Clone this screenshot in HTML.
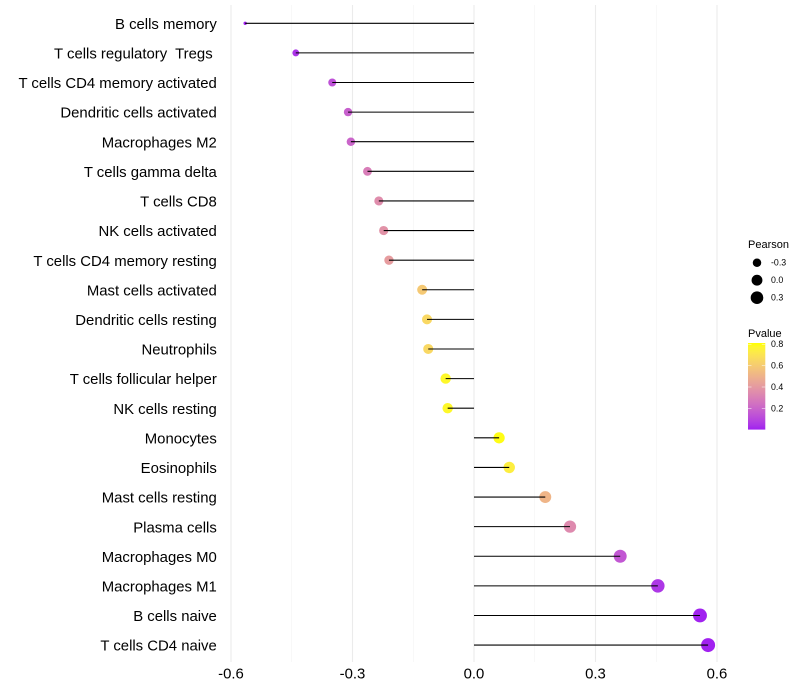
<!DOCTYPE html>
<html>
<head>
<meta charset="utf-8">
<title>Lollipop chart</title>
<style>
html,body{margin:0;padding:0;background:#fff;width:800px;height:700px;overflow:hidden}
svg{display:block;font-family:"Liberation Sans",sans-serif}
text{white-space:pre}
</style>
</head>
<body>
<svg id="chart" width="800" height="700" viewBox="0 0 800 700" xmlns="http://www.w3.org/2000/svg"></svg>
<script>
const categories = ["B cells memory","T cells regulatory  Tregs ","T cells CD4 memory activated","Dendritic cells activated","Macrophages M2","T cells gamma delta","T cells CD8","NK cells activated","T cells CD4 memory resting","Mast cells activated","Dendritic cells resting","Neutrophils","T cells follicular helper","NK cells resting","Monocytes","Eosinophils","Mast cells resting","Plasma cells","Macrophages M0","Macrophages M1","B cells naive","T cells CD4 naive"];
const pearson = [-0.565,-0.44,-0.35,-0.311,-0.304,-0.263,-0.235,-0.223,-0.21,-0.128,-0.116,-0.113,-0.07,-0.065,0.062,0.087,0.176,0.237,0.361,0.454,0.558,0.578];
const pvalue = [0.01,0.05,0.14,0.19,0.21,0.3,0.36,0.38,0.42,0.6,0.66,0.66,0.79,0.79,0.81,0.75,0.52,0.35,0.16,0.06,0.012,0.01];
const xTicks = [-0.6,-0.3,0,0.3,0.6];
const xMinorTicks = [-0.45,-0.15,0.15,0.45];
const sizeLegendValues = [-0.3,0,0.3];
const colorLegendValues = [0.8,0.6,0.4,0.2];

const svg = document.getElementById('chart');
const NS = 'http://www.w3.org/2000/svg';
function mk(tag, attrs, parent, text){
  const e = document.createElementNS(NS, tag);
  for (const k in attrs) e.setAttribute(k, attrs[k]);
  if (text !== undefined) e.textContent = text;
  (parent || svg).appendChild(e);
  return e;
}
const xScale = v => 474 + v * 405;
const yScale = i => 23.28 + i * 29.61;
const vMin = Math.min(...pearson), vMax = Math.max(...pearson);
const rScale = v => 1.7 + 5.3 * Math.sqrt((v - vMin) / (vMax - vMin));
const pToBarY = p => 387 - (p - 0.4) * 107;

function rgb2lab(c){
  const f = x => { x/=255; return x>0.04045?Math.pow((x+0.055)/1.055,2.4):x/12.92; };
  const r=f(c[0]),g=f(c[1]),b=f(c[2]);
  const X=(0.4124*r+0.3576*g+0.1805*b)/0.95047,Y=0.2126*r+0.7152*g+0.0722*b,Z=(0.0193*r+0.1192*g+0.9505*b)/1.08883;
  const h = t => t>0.008856?Math.cbrt(t):7.787*t+16/116;
  return [116*h(Y)-16,500*(h(X)-h(Y)),200*(h(Y)-h(Z))];
}
function lab2rgb(l){
  const fy=(l[0]+16)/116,fx=fy+l[1]/500,fz=fy-l[2]/200;
  const h = t => t*t*t>0.008856?t*t*t:(t-16/116)/7.787;
  const X=h(fx)*0.95047,Y=h(fy),Z=h(fz)*1.08883;
  const g = x => { x=Math.max(0,Math.min(1,x)); return Math.round(255*(x>0.0031308?1.055*Math.pow(x,1/2.4)-0.055:12.92*x)); };
  return 'rgb('+g(3.2406*X-1.5372*Y-0.4986*Z)+','+g(-0.9689*X+1.8758*Y+0.0415*Z)+','+g(0.0557*X-0.2040*Y+1.0570*Z)+')';
}
const labLow = rgb2lab([160,32,240]), labHigh = rgb2lab([255,255,0]);
function colorScale(p){
  const t = Math.max(0, Math.min(1, (p - 0.008) / (0.82 - 0.008)));
  return lab2rgb(labLow.map((a, i) => a + (labHigh[i] - a) * t));
}

// gridlines
xMinorTicks.forEach(v => {
  const l = mk('line', {x1:xScale(v), x2:xScale(v), y1:5, y2:662, stroke:'#f0f0f0', 'stroke-width':0.55});
  
  
});
xTicks.forEach(v => {
  const l = mk('line', {x1:xScale(v), x2:xScale(v), y1:5, y2:662, stroke:'#ebebeb', 'stroke-width':1.07});
  
  
});

// points then segments
categories.forEach((name, i) => {
  const c = mk('circle', {cx:xScale(pearson[i]), cy:yScale(i), r:rScale(pearson[i]), fill:colorScale(pvalue[i])});
  
  
  const s = mk('line', {x1:xScale(0), x2:xScale(pearson[i]), y1:yScale(i), y2:yScale(i), stroke:'#000', 'stroke-width':1.07});
  
  
  const t = mk('text', {x:216.8, y:yScale(i) + 5.6, 'text-anchor':'end', 'font-size':14.9, fill:'#000'}, svg, name);
  
  
});

// x tick labels
xTicks.forEach(v => {
  const t = mk('text', {x:xScale(v), y:678.6, 'text-anchor':'middle', 'font-size':14.9, fill:'#000'}, svg, v.toFixed(1));
  
  
});

// size legend
const st = mk('text', {x:748, y:248, 'font-size':11, fill:'#000'}, svg, 'Pearson');


sizeLegendValues.forEach((v, i) => {
  const y = 262.7 + i * 17.5;
  const c = mk('circle', {cx:757, cy:y, r:rScale(v), fill:'#000'});
  
  
  const t = mk('text', {x:771, y:y + 3, 'font-size':8.8, fill:'#000'}, svg, v.toFixed(1));
  
  
});

// colour legend
const ct = mk('text', {x:748, y:337, 'font-size':11, fill:'#000'}, svg, 'Pvalue');


const defs = mk('defs', {});
const grad = mk('linearGradient', {id:'pgrad', x1:0, y1:1, x2:0, y2:0}, defs);
for (let i = 0; i <= 20; i++) {
  mk('stop', {offset:i / 20, 'stop-color':colorScale(0.008 + (0.82 - 0.008) * i / 20)}, grad);
}
const bar = mk('rect', {x:748, y:343, width:17.3, height:86.6, fill:'url(#pgrad)'});


colorLegendValues.forEach(p => {
  const y = pToBarY(p);
  [[748, 751.5], [761.8, 765.3]].forEach(seg => {
    const l = mk('line', {x1:seg[0], x2:seg[1], y1:y, y2:y, stroke:'#fff', 'stroke-width':0.5});
    
    
  });
  const t = mk('text', {x:771, y:y + 3, 'font-size':8.8, fill:'#000'}, svg, p.toFixed(1));
  
  
});
</script>
</body>
</html>
